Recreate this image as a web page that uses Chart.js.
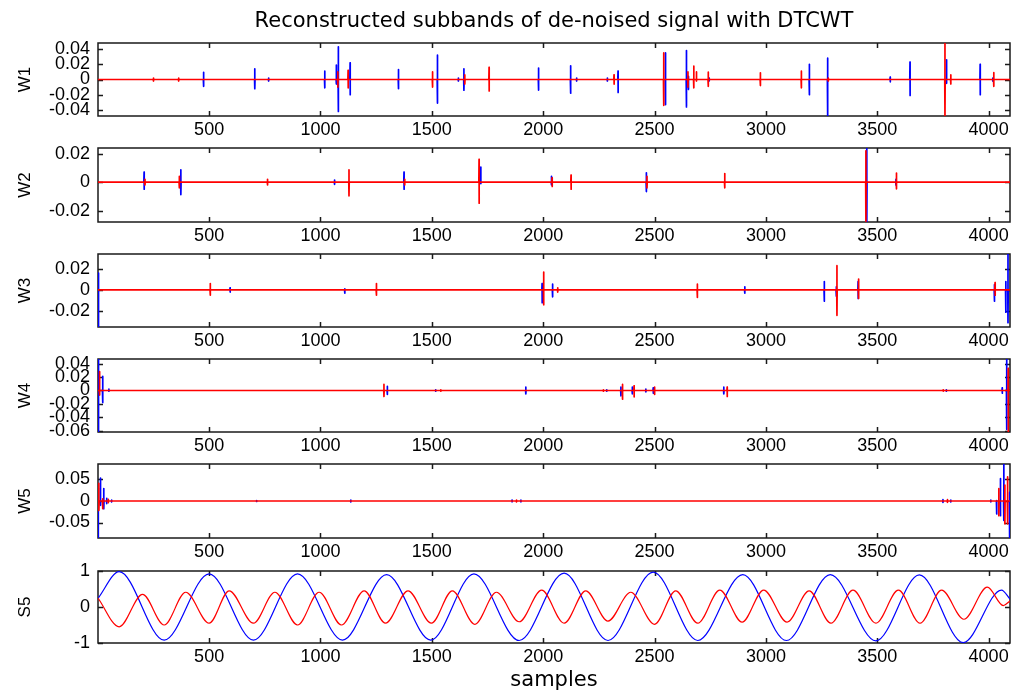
<!DOCTYPE html>
<html>
<head>
<meta charset="utf-8">
<script src="https://cdn.jsdelivr.net/npm/chart.js@4"></script>
<style>
  body { margin: 0; background: #fff; }
  #wrap { position: relative; width: 1016px; height: 696px; overflow: hidden; background: #fff; }
  #wrap canvas { position: absolute; left: 0; }
</style>
</head>
<body>
<div id="wrap"></div>
<script>
// Subband spikes: [sample, high, low]
const w1Blue = [
  [475, 0.0095, -0.009], [705, 0.014, -0.012], [767, 0.002, -0.002], [1019, 0.011, -0.011],
  [1071, 0.019, -0.006], [1080, 0.043, -0.042], [1133, 0.022, -0.020], [1350, 0.013, -0.012],
  [1525, 0.032, -0.031], [1619, 0.002, -0.002], [1644, 0.014, -0.014], [1979, 0.015, -0.014],
  [2123, 0.018, -0.018], [2150, 0.002, -0.002], [2288, 0.002, -0.002], [2336, 0.011, -0.017],
  [2549, 0.035, -0.033], [2643, 0.038, -0.036], [2652, 0.004, -0.013], [2745, 0.002, -0.002],
  [3195, 0.020, -0.020], [3277, 0.028, -0.048], [3558, 0.003, -0.003], [3647, 0.023, -0.021],
  [3811, 0.026, -0.005], [3962, 0.020, -0.020], [4019, 0.002, -0.002]
];
const w1Red = [
  [250, 0.002, -0.002], [363, 0.002, -0.002], [1078, 0.010, -0.010], [1124, 0.012, -0.011],
  [1503, 0.010, -0.010], [1648, 0.006, -0.006], [1757, 0.016, -0.015], [2318, 0.006, -0.006],
  [2541, 0.035, -0.034], [2650, 0.010, -0.010], [2676, 0.0175, -0.011], [2688, 0.010, -0.002],
  [2741, 0.0096, -0.009], [2975, 0.0088, -0.008], [3159, 0.011, -0.011], [3280, 0.002, -0.002],
  [3804, 0.048, -0.048], [3830, 0.006, -0.006], [4023, 0.009, -0.009]
];
const w2Blue = [
  [208, 0.007, -0.005], [373, 0.0087, -0.0087], [1063, 0.0015, -0.0015], [1375, 0.007, -0.005],
  [1720, 0.0106, -0.001], [2037, 0.004, -0.002], [2463, 0.0066, -0.0066], [3453, 0.024, -0.028],
  [3584, 0.002, -0.002]
];
const w2Red = [
  [212, 0.002, -0.002], [366, 0.004, -0.004], [762, 0.002, -0.002], [1128, 0.0087, -0.0096],
  [1378, 0.002, -0.002], [1712, 0.016, -0.0148], [2040, 0.003, -0.003], [2125, 0.005, -0.005],
  [2466, 0.004, -0.004], [2815, 0.006, -0.004], [3449, 0.022, -0.0275], [3586, 0.0064, -0.0047]
];
const w3Blue = [
  [3, 0.016, -0.035], [594, 0.002, -0.002], [1109, 0.001, -0.003], [1995, 0.006, -0.012],
  [2042, 0.0055, -0.0065], [2905, 0.003, -0.003], [3262, 0.008, -0.0106], [3316, 0.003, -0.006],
  [3414, 0.008, -0.008], [4026, 0.005, -0.0106], [4077, 0.008, -0.021], [4087, 0.034, -0.031]
];
const w3Red = [
  [505, 0.006, -0.005], [1251, 0.006, -0.005], [2002, 0.017, -0.014], [2065, 0.002, -0.002],
  [2692, 0.0055, -0.007], [3319, 0.023, -0.024], [3416, 0.0103, -0.008], [4029, 0.007, -0.005]
];
const w4Blue = [
  [3, 0.047, -0.062], [22, 0.021, -0.018], [50, 0.002, -0.001], [1300, 0.006, -0.006],
  [1517, 0.001, -0.001], [1922, 0.005, -0.005], [2285, 0.001, -0.001], [2349, 0.005, -0.008],
  [2400, 0.005, -0.005], [2461, 0.002, -0.002], [2494, 0.004, -0.004], [2811, 0.005, -0.005],
  [3810, 0.001, -0.001], [4061, 0.004, -0.004], [4081, 0.047, -0.058]
];
const w4Red = [
  [8, 0.028, -0.007], [1285, 0.009, -0.009], [1540, 0.001, -0.001], [2270, 0.001, -0.001],
  [2356, 0.009, -0.013], [2408, 0.007, -0.0095], [2500, 0.005, -0.006], [2826, 0.005, -0.009],
  [3796, 0.001, -0.001], [4088, 0.033, -0.062]
];
const w5Blue = [
  [2, 0.03, -0.086], [12, 0.053, -0.01], [27, 0.029, -0.018], [40, 0.006, -0.006],
  [62, 0.002, -0.002], [713, 0.001, -0.001], [1136, 0.002, -0.002], [1860, 0.002, -0.002],
  [1900, 0.002, -0.002], [3795, 0.003, -0.003], [3830, 0.002, -0.002], [4010, 0.002, -0.002],
  [4036, 0.001, -0.03], [4053, 0.052, -0.034], [4068, 0.086, -0.045], [4094, 0.02, -0.086]
];
const w5Red = [
  [5, 0.041, -0.022], [22, 0.005, -0.018], [47, 0.004, -0.004], [1880, 0.002, -0.002],
  [3815, 0.003, -0.003], [4046, 0.029, -0.034], [4073, 0.037, -0.053], [4085, 0.056, -0.053]
];

// Scaling subband S5: turning points of both traces
const s5BlueX = [1, 96, 298, 500, 699, 897, 1099, 1297, 1495, 1689, 1892, 2094, 2291, 2494,
  2694, 2896, 3092, 3289, 3494, 3689, 3886, 4058, 4096];
const s5BlueY = [0.24, 0.98, -0.92, 0.92, -0.92, 0.92, -0.92, 0.9, -0.92, 0.92, -0.93, 0.94, -0.93, 0.97,
  -0.93, 0.9, -0.93, 0.9, -0.94, 0.89, -0.99, 0.47, 0.22];
const s5RedX = [1, 96, 201, 298, 395, 500, 590, 699, 795, 897, 994, 1094, 1196, 1292, 1393, 1498,
  1592, 1693, 1790, 1892, 1993, 2094, 2191, 2291, 2393, 2500, 2595, 2694, 2793, 2893, 2990, 3095,
  3194, 3292, 3391, 3494, 3595, 3692, 3789, 3889, 3994, 4066, 4096];
const s5RedY = [0.25, -0.55, 0.35, -0.5, 0.41, -0.45, 0.45, -0.45, 0.41, -0.5, 0.41, -0.5, 0.45, -0.45, 0.45, -0.45,
  0.45, -0.48, 0.41, -0.41, 0.47, -0.45, 0.45, -0.39, 0.41, -0.48, 0.45, -0.45, 0.47, -0.42, 0.47, -0.42,
  0.45, -0.45, 0.47, -0.45, 0.47, -0.45, 0.47, -0.34, 0.55, 0.04, 0.17];

// Tick labels
const xTicks = [500, 1000, 1500, 2000, 2500, 3000, 3500, 4000];
const w1Ticks = [-0.04, -0.02, 0, 0.02, 0.04];
const w2Ticks = [-0.02, 0, 0.02];
const w3Ticks = [-0.02, 0, 0.02];
const w4Ticks = [-0.06, -0.04, -0.02, 0, 0.02, 0.04];
const w5Ticks = [-0.05, 0, 0.05];
const s5Ticks = [-1, 0, 1];

const N = 4096;
const BLUE = '#0000ff';
const RED = '#ff0000';

// spike triples -> vertical strokes; with a zero line when `base` is set,
// otherwise separated by gaps so only the strokes are drawn
function spikeTrace(spikes, base) {
  const pts = base ? [{x: 1, y: 0}] : [];
  spikes.forEach(([s, hi, lo]) => {
    pts.push({x: s - 1, y: 0}, {x: s, y: hi}, {x: s, y: lo}, {x: s + 1, y: 0});
    if (!base) pts.push({x: s + 1, y: null});
  });
  if (base) pts.push({x: N, y: 0});
  return pts;
}
function pairs(xs, ys) {
  return xs.map((x, i) => ({x: x, y: ys[i]}));
}

// MATLAB-style box with inward tick marks on all four sides
const axesBox = {
  id: 'axesBox',
  beforeDatasetsDraw(chart) {
    const {ctx, chartArea: a, scales} = chart;
    const tl = 5;
    ctx.save();
    ctx.strokeStyle = '#1a1a1a';
    ctx.lineWidth = 1.5;
    ctx.beginPath();
    scales.x.ticks.forEach(t => {
      const p = Math.round(scales.x.getPixelForValue(t.value)) + 0.5;
      ctx.moveTo(p, a.bottom); ctx.lineTo(p, a.bottom - tl);
      ctx.moveTo(p, a.top); ctx.lineTo(p, a.top + tl);
    });
    scales.y.ticks.forEach(t => {
      const p = Math.round(scales.y.getPixelForValue(t.value)) + 0.5;
      ctx.moveTo(a.left, p); ctx.lineTo(a.left + tl, p);
      ctx.moveTo(a.right, p); ctx.lineTo(a.right - tl, p);
    });
    ctx.stroke();
    ctx.strokeRect(a.left, a.top, a.right - a.left, a.bottom - a.top);
    ctx.restore();
  }
};

const panels = [
  {name: 'W1', blue: spikeTrace(w1Blue), red: spikeTrace(w1Red, true), min: -0.048, max: 0.048, ticks: w1Ticks, top: 43, h: 73, title: true},
  {name: 'W2', blue: spikeTrace(w2Blue), red: spikeTrace(w2Red, true), min: -0.028, max: 0.024, ticks: w2Ticks, top: 148, h: 74},
  {name: 'W3', blue: spikeTrace(w3Blue), red: spikeTrace(w3Red, true), min: -0.035, max: 0.034, ticks: w3Ticks, top: 254, h: 73},
  {name: 'W4', blue: spikeTrace(w4Blue), red: spikeTrace(w4Red, true), min: -0.062, max: 0.047, ticks: w4Ticks, top: 359, h: 73},
  {name: 'W5', blue: spikeTrace(w5Blue), red: spikeTrace(w5Red, true), min: -0.086, max: 0.086, ticks: w5Ticks, top: 464, h: 74},
  {name: 'S5', blue: pairs(s5BlueX, s5BlueY), red: pairs(s5RedX, s5RedY), min: -1, max: 1, ticks: s5Ticks, top: 571, h: 72, smooth: true, xlabel: 'samples'}
];

Chart.defaults.color = '#000';
Chart.defaults.font.family = "'Liberation Sans', Arial, sans-serif";

const wrap = document.getElementById('wrap');
panels.forEach(p => {
  const padTop = p.title ? 0 : 24;
  const xh = p.xlabel ? 53 : 26;
  const canvasTop = p.title ? 0 : p.top - padTop;
  const cv = document.createElement('canvas');
  cv.width = 1016;
  cv.height = (p.title ? p.top : padTop) + p.h + xh;
  cv.style.top = canvasTop + 'px';
  wrap.appendChild(cv);

  const line = {
    pointRadius: 0, tension: 0, fill: false, spanGaps: false,
    borderWidth: p.smooth ? 1.2 : 1.7,
    borderJoinStyle: 'round', borderCapStyle: 'butt'
  };
  if (p.smooth) line.cubicInterpolationMode = 'monotone';

  new Chart(cv, {
    type: 'line',
    data: {
      datasets: [
        Object.assign({data: p.red, borderColor: RED}, line),
        Object.assign({data: p.blue, borderColor: BLUE}, line)
      ]
    },
    options: {
      responsive: false,
      animation: false,
      events: [],
      layout: {padding: {top: padTop, right: 6, left: 0, bottom: 0}},
      plugins: {
        legend: {display: false},
        tooltip: {enabled: false},
        title: {
          display: !!p.title,
          text: 'Reconstructed subbands of de-noised signal with DTCWT',
          fullSize: false,
          color: '#000',
          font: {family: "'DejaVu Sans', sans-serif", size: 21, weight: 'normal', lineHeight: 1.2},
          padding: {top: 9, bottom: 8.8}
        }
      },
      scales: {
        x: {
          type: 'linear',
          min: 1,
          max: N,
          bounds: 'data',
          grid: {display: false, drawTicks: false},
          border: {display: false},
          ticks: {autoSkip: false, maxRotation: 0, padding: 3, font: {size: 18}, callback: v => String(v)},
          afterBuildTicks: s => { s.ticks = xTicks.map(v => ({value: v})); },
          afterFit: s => { s.height = xh; },
          title: {
            display: !!p.xlabel,
            text: p.xlabel || '',
            font: {family: "'DejaVu Sans', sans-serif", size: 21},
            padding: {top: 0, bottom: 3}
          }
        },
        y: {
          type: 'linear',
          min: p.min,
          max: p.max,
          bounds: 'data',
          grid: {display: false, drawTicks: false},
          border: {display: false},
          ticks: {autoSkip: false, padding: 8, font: {size: 18}, callback: v => String(v)},
          afterBuildTicks: s => { s.ticks = p.ticks.map(v => ({value: v})); },
          afterFit: s => { s.width = 98; },
          title: {
            display: true,
            text: p.name,
            font: {size: 17},
            padding: {top: 15, bottom: 0}
          }
        }
      }
    },
    plugins: [axesBox]
  });
});
</script>
</body>
</html>
